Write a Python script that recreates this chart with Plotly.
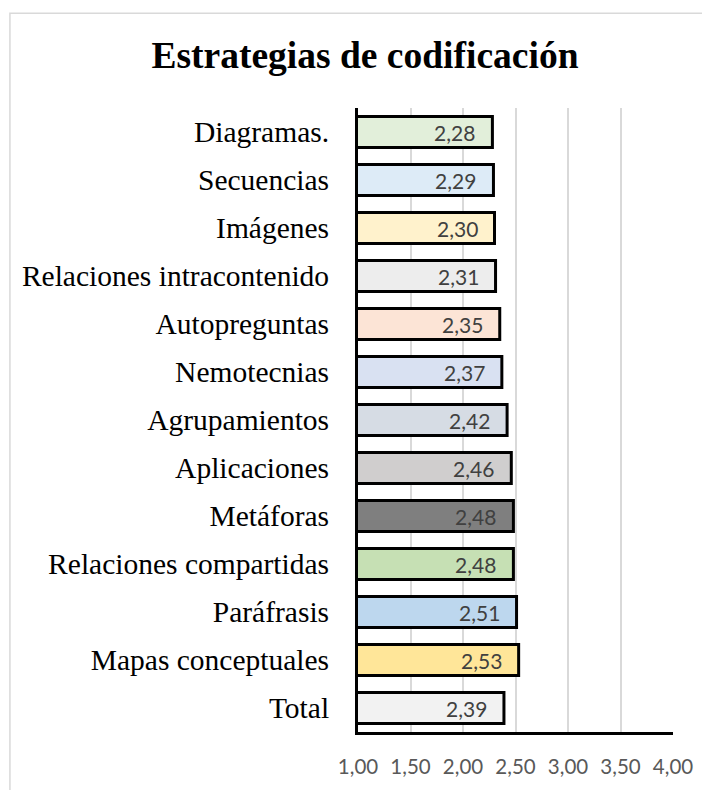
import plotly.graph_objects as go

categories = ["Diagramas.", "Secuencias", "Imágenes", "Relaciones intracontenido",
              "Autopreguntas", "Nemotecnias", "Agrupamientos", "Aplicaciones",
              "Metáforas", "Relaciones compartidas", "Paráfrasis",
              "Mapas conceptuales", "Total"]
values = [2.28, 2.29, 2.30, 2.31, 2.35, 2.37, 2.42, 2.46, 2.48, 2.48, 2.51, 2.53, 2.39]
colors = ["#E2EFDA", "#DDEBF7", "#FFF2CC", "#EDEDED", "#FCE4D6", "#D9E1F2",
          "#D6DCE4", "#D0CECE", "#7F7F7F", "#C6E0B4", "#BDD7EE", "#FFE699", "#F2F2F2"]
tick_vals = [1.0, 1.5, 2.0, 2.5, 3.0, 3.5, 4.0]
title = "Estrategias de codificación"

W, H = 702, 782  # page body has an 8px margin

fig = go.Figure()
fig.add_trace(go.Bar(
    y=categories, x=values, orientation="h",
    marker=dict(color=colors, line=dict(color="black", width=3)),
    hoverinfo="skip",
))

for c, v in zip(categories, values):
    fig.add_annotation(x=v, y=c, xref="x", yref="y", text=f"{v:.2f}".replace(".", ","),
                       showarrow=False, xanchor="right", xshift=-15,
                       font=dict(family="Lato", size=21, color="#404040"))

# outer chart border
fig.add_shape(type="rect", xref="paper", yref="paper",
              x0=-1.105, x1=1.25, y0=-0.2, y1=1.1518,
              line=dict(color="#D9D9D9", width=1.5), fillcolor="rgba(0,0,0,0)", layer="below")

fig.update_layout(
    width=W, height=H,
    margin=dict(l=350, r=37, t=100, b=53),
    paper_bgcolor="white", plot_bgcolor="white",
    bargap=0.35,
    showlegend=False,
    separators=",.",
    title=dict(text=f"<b>{title}</b>", x=357/W, xanchor="center",
               y=1 - 47/H, yanchor="middle", yref="container",
               font=dict(family="Liberation Serif", size=37.5, color="black")),
    xaxis=dict(range=[1, 4], tickvals=tick_vals, tickformat=".2f",
               showgrid=True, gridcolor="#D9D9D9", gridwidth=1.5,
               showline=True, linecolor="black", linewidth=3,
               ticks="", ticklabelstandoff=14, zeroline=False,
               tickfont=dict(family="Lato", size=20.5, color="#595959")),
    yaxis=dict(categoryorder="array", categoryarray=categories, autorange="reversed",
               showline=True, linecolor="black", linewidth=3, ticks="",
               ticklabelstandoff=20, showgrid=False,
               tickfont=dict(family="Liberation Serif", size=29.5, color="black")),
)

fig.write_html("out.html")
